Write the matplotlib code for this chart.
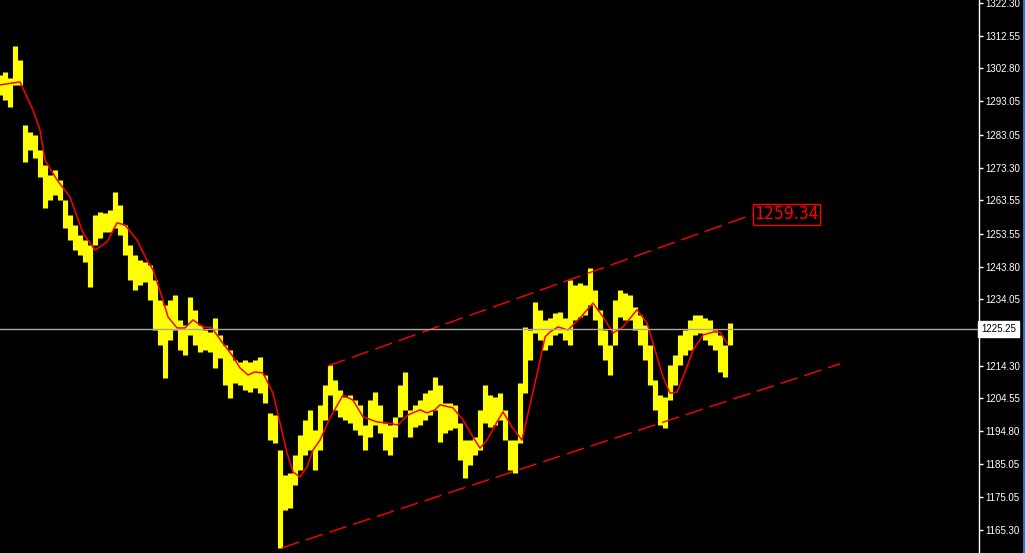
import matplotlib.pyplot as plt
from matplotlib.lines import Line2D
import matplotlib.transforms as mtransforms

# bar index (time) and high / low of each bar group
bar_x = list(range(0, 735, 5))
bar_hi = [1300.9, 1301.8, 1300.0, 1309.5, 1305.3, 1286.0, 1283.9, 1283.0, 1278.5, 1274.0,
          1271.1, 1272.6, 1269.6, 1263.6, 1259.2, 1256.2, 1253.2, 1251.7, 1250.2, 1259.2,
          1260.0, 1259.7, 1260.6, 1266.0, 1262.1, 1256.2, 1250.2, 1247.2, 1245.7, 1245.2,
          1244.3, 1239.8, 1233.8, 1232.3, 1233.8, 1235.3, 1227.9, 1226.4, 1234.7, 1230.9,
          1226.4, 1224.9, 1224.3, 1228.5, 1223.4, 1220.4, 1218.9, 1216.0, 1215.4, 1216.0,
          1215.4, 1216.0, 1216.9, 1211.5, 1200.2, 1199.6, 1189.1, 1181.7, 1182.3, 1187.7,
          1193.6, 1198.1, 1201.1, 1195.1, 1202.6, 1208.5, 1214.5, 1210.0, 1207.0, 1204.9,
          1205.5, 1204.0, 1202.6, 1196.6, 1204.0, 1206.4, 1202.6, 1197.2, 1196.6, 1199.0,
          1208.5, 1212.4, 1201.1, 1202.6, 1204.0, 1206.1, 1207.0, 1210.9, 1208.5, 1203.2,
          1203.2, 1202.6, 1197.2, 1192.1, 1192.1, 1193.0, 1201.1, 1208.5, 1205.5, 1204.9,
          1206.1, 1201.1, 1192.1, 1192.1, 1209.1, 1225.8, 1224.9, 1233.2, 1230.9, 1227.9,
          1228.5, 1230.0, 1230.3, 1228.5, 1239.8, 1238.3, 1238.9, 1238.3, 1243.4, 1236.8,
          1230.9, 1224.9, 1220.4, 1233.8, 1236.8, 1235.9, 1235.3, 1231.7, 1229.4, 1226.4,
          1220.4, 1210.0, 1205.5, 1204.9, 1214.5, 1217.4, 1223.4, 1224.9, 1227.9, 1229.4,
          1229.4, 1228.5, 1227.9, 1224.9, 1223.4, 1220.4, 1227.0]
bar_lo = [1294.9, 1293.4, 1291.3, 1297.9, 1297.9, 1274.9, 1278.5, 1276.1, 1270.5, 1261.2,
          1263.6, 1265.1, 1263.6, 1255.3, 1251.7, 1248.7, 1247.2, 1245.2, 1237.7, 1250.2,
          1252.3, 1254.1, 1254.1, 1255.3, 1253.2, 1247.2, 1239.8, 1236.8, 1238.3, 1239.2,
          1233.8, 1224.9, 1220.4, 1210.6, 1221.9, 1224.9, 1218.9, 1217.4, 1223.4, 1220.4,
          1218.3, 1218.9, 1218.3, 1213.6, 1216.6, 1208.5, 1204.6, 1209.1, 1208.5, 1207.0,
          1206.4, 1207.6, 1206.1, 1203.2, 1192.1, 1191.2, 1160.0, 1171.3, 1171.9, 1178.7,
          1183.2, 1187.7, 1189.1, 1183.2, 1189.1, 1198.1, 1205.5, 1201.1, 1199.0, 1198.1,
          1197.2, 1195.1, 1193.6, 1189.1, 1193.0, 1196.6, 1194.2, 1189.1, 1187.7, 1193.0,
          1199.0, 1201.1, 1193.0, 1196.0, 1196.6, 1198.1, 1199.6, 1201.1, 1191.5, 1194.2,
          1195.1, 1195.7, 1186.2, 1180.8, 1184.7, 1187.7, 1189.1, 1197.2, 1196.0, 1196.6,
          1198.1, 1192.1, 1183.2, 1182.3, 1191.2, 1206.1, 1216.0, 1224.0, 1221.9, 1218.9,
          1220.4, 1223.4, 1224.0, 1221.9, 1220.4, 1227.9, 1228.8, 1229.4, 1232.3, 1227.9,
          1220.4, 1216.0, 1211.5, 1220.4, 1228.8, 1227.9, 1227.9, 1224.9, 1220.4, 1216.0,
          1208.5, 1201.1, 1196.6, 1195.7, 1204.0, 1208.5, 1214.5, 1217.4, 1218.9, 1223.4,
          1224.0, 1221.9, 1220.4, 1218.9, 1212.4, 1210.9, 1220.4]

# moving average (red)
ma_x = [0, 20, 33, 40, 45, 57, 70, 83, 95, 107, 117, 125, 137, 147, 153, 162, 168, 177,
        185, 193, 203, 212, 222, 232, 240, 248, 255, 263, 273, 280, 287, 293, 300, 307,
        313, 320, 330, 343, 353, 363, 377, 387, 398, 408, 420, 427, 435, 440, 453, 463,
        473, 480, 487, 497, 503, 512, 522, 530, 538, 545, 550, 558, 568, 580, 593, 603,
        613, 623, 637, 647, 653, 663, 670, 677, 687, 693, 703, 713, 720, 727]
ma_y = [1297.9, 1298.8, 1290.4, 1284.5, 1275.5, 1269.6, 1264.5, 1253.8, 1248.7, 1251.1,
        1256.8, 1256.2, 1251.7, 1245.7, 1242.8, 1234.7, 1228.8, 1225.5, 1225.5, 1227.9,
        1225.8, 1225.5, 1221.3, 1217.4, 1213.6, 1211.5, 1212.4, 1212.1, 1206.1, 1197.2,
        1188.3, 1182.6, 1181.1, 1184.1, 1189.1, 1192.1, 1198.7, 1205.5, 1204.0, 1199.0,
        1197.5, 1197.2, 1196.6, 1199.6, 1201.1, 1200.2, 1201.1, 1202.6, 1201.7, 1198.1,
        1193.0, 1189.7, 1192.1, 1197.5, 1200.5, 1196.0, 1192.1, 1202.6, 1213.0, 1222.8,
        1224.3, 1225.8, 1224.9, 1228.5, 1232.9, 1228.8, 1224.0, 1225.8, 1230.9, 1227.0,
        1221.0, 1210.9, 1206.1, 1206.4, 1213.9, 1218.9, 1223.4, 1224.3, 1224.3, 1221.0]

# channel trendlines
upper_x = [328, 753]
upper_y = [1214.2, 1259.34]
lower_x = [282, 840]
lower_y = [1160.0, 1214.8]

last_price = 1225.25
tick_vals = [1322.30, 1312.55, 1302.80, 1293.05, 1283.05, 1273.30, 1263.55, 1253.55,
             1243.80, 1234.05, 1214.30, 1204.55, 1194.80, 1185.05, 1175.05, 1165.30]

fig = plt.figure(figsize=(10.25, 5.53), dpi=100, facecolor='black')
ax = fig.add_axes([0, 0, 979 / 1025, 1])
ax.set_facecolor('black')

# price ranges, one column per 5 bars, wide enough to touch each other
ax.vlines(bar_x, bar_lo, bar_hi, color='#ffff00', linewidth=3.7)
ax.plot(ma_x, ma_y, color='#ff0000', linewidth=1.1)

ax.plot(upper_x, upper_y, color='#ff0000', linewidth=1.0, linestyle=(0, (13, 5)))
ax.plot(lower_x, lower_y, color='#ff0000', linewidth=1.0, linestyle=(0, (13, 5)))
ax.text(upper_x[1] + 1.5, upper_y[1], '%.2f' % upper_y[1], color='#ff0000', fontsize=12.5,
        family='DejaVu Sans', fontstretch='condensed',
        va='center', ha='left',
        bbox=dict(boxstyle='square,pad=0.08', facecolor='black', edgecolor='#ff0000', linewidth=1))

ax.axhline(last_price, color='#a8a8a8', linewidth=1)

ax.set_xlim(0, 979)
ax.set_ylim(1158.46, 1323.2)
ax.set_xticks([])
ax.yaxis.tick_right()
ax.set_yticks(tick_vals)
ax.set_yticklabels(['%.2f' % v for v in tick_vals])
ax.tick_params(axis='y', colors='white', length=3, width=1, pad=1.5, labelsize=7)
for lab in ax.get_yticklabels():
    lab.set_family('Liberation Sans')
for side in ['top', 'left', 'bottom']:
    ax.spines[side].set_visible(False)
ax.spines['right'].set_color('white')
ax.spines['right'].set_linewidth(1)

trans = mtransforms.blended_transform_factory(ax.transAxes, ax.transData)
ax.text(1.002, last_price, '%.2f' % last_price, transform=trans, color='black',
        fontsize=7, family='Liberation Sans', va='center', ha='left',
        bbox=dict(boxstyle='square,pad=0.3', facecolor='white', edgecolor='white'))

fig.add_artist(Line2D([1023.5 / 1025, 1023.5 / 1025], [0, 1], color='#3c6eb4', linewidth=1.5))

fig.savefig('out.png', dpi=100, facecolor='black')
